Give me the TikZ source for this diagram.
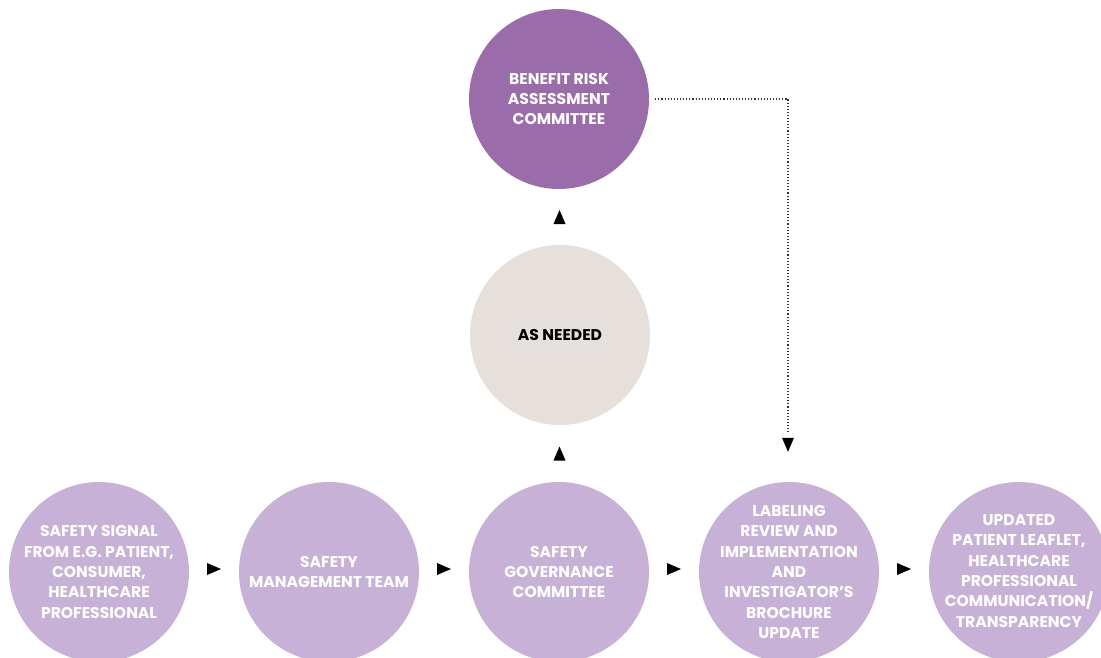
\documentclass[tikz,border=0pt]{standalone}
\usepackage{fontspec}
\setmainfont{Poppins}
\usetikzlibrary{calc}
\definecolor{topc}{HTML}{9B6CAA}
\definecolor{lowc}{HTML}{C8B1D6}
\definecolor{midc}{HTML}{E6E0DC}
\definecolor{dotc}{HTML}{333333}
\tikzset{
  bub/.style={circle, minimum size=180pt, inner sep=0pt},
  lowbub/.style={bub, fill=lowc},
  topbub/.style={bub, fill=topc},
  midbub/.style={bub, fill=midc},
  txt/.style={inner sep=0pt, align=center,
    font=\fontsize{15.6}{20.3}\selectfont\bfseries, text=white},
  dtxt/.style={txt, text=black},
  dotline/.style={draw=dotc, line width=1.1pt, dash pattern=on 1.1pt off 2pt},
  tri/.pic={\fill[black] (-7,-6) -- (7,0) -- (-7,6) -- cycle;}
}
\begin{document}
\begin{tikzpicture}[x=1pt,y=-1pt]
\useasboundingbox (0,0) rectangle (1101,658);
\node[lowbub] (s1) at (99,572) {};
\node[txt] (s1t) at (s1.center) {SAFETY SIGNAL\\FROM E.G. PATIENT,\\CONSUMER,\\HEALTHCARE\\PROFESSIONAL};
\node[lowbub] (s2) at (329,572) {};
\node[txt] (s2t) at (s2.center) {SAFETY\\MANAGEMENT TEAM};
\node[lowbub] (s3) at (559,572) {};
\node[txt] (s3t) at (s3.center) {SAFETY\\GOVERNANCE\\COMMITTEE};
\node[lowbub] (s4) at (789,572) {};
\node[txt] (s4t) at (s4.center) {LABELING\\REVIEW AND\\IMPLEMENTATION\\AND\\INVESTIGATOR’S\\BROCHURE\\UPDATE};
\node[lowbub] (s5) at (1019,572) {};
\node[txt] (s5t) at ($(s5.center)+(0,-1)$) {UPDATED\\PATIENT LEAFLET,\\HEALTHCARE\\PROFESSIONAL\\COMMUNICATION/\\TRANSPARENCY};
\node[midbub] (an) at (560,335) {};
\node[dtxt] (ant) at (an.center) {AS NEEDED};
\node[topbub] (br) at (559,99) {};
\node[txt] (brt) at (br.center) {BENEFIT RISK\\ASSESSMENT\\COMMITTEE};
% right-pointing triangles between bottom circles
\foreach \a/\b in {s1/s2,s2/s3,s3/s4,s4/s5}{
  \path ($(\a.east)!0.5!(\b.west)+(0,-3)$) pic {tri};
}
% upward triangles
\path ($(s3.north)!0.5!(an.south)$) pic[rotate=90] {tri};
\path ($(an.north)!0.5!(br.south)$) pic[rotate=90] {tri};
% dotted connector
\coordinate (dend) at ($(s4.north)+(-1,-50)$);
\draw[dotline] ([xshift=6pt]br.east) -| (dend);
\path ($(s4.north)+(-1,-37)$) pic[rotate=-90] {tri};
\end{tikzpicture}
\end{document}
